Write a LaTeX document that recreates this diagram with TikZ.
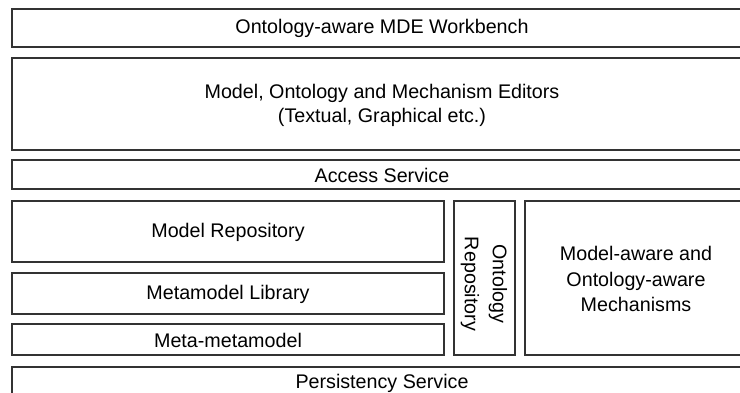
\documentclass[tikz,border=0pt]{standalone}
\usepackage{fontspec}
\setmainfont{Liberation Sans}
\definecolor{mdeLine}{HTML}{333333}
\tikzset{
  mde layer/.style={draw=mdeLine, line width=1pt},
  mde label/.style={font=\fontsize{9.85}{12}\selectfont, text=black, align=center, inner sep=0pt},
}

\begin{document}
\begin{tikzpicture}[x=0.5pt, y=-0.5pt]
  \useasboundingbox (0,0) rectangle (740,392);
  \clip (0,0) rectangle (740,392);

  % top of the stack: workbench, editors, access
  \draw[mde layer] (12,9) rectangle (752,47);
  \node[mde label] (workbench) at (382,28) {Ontology-aware MDE Workbench};
  \draw[mde layer] (12,58) rectangle (752,150);
  \node[mde label] (editors) at (382,105) {Model, Ontology and Mechanism Editors\\(Textual, Graphical etc.)};
  \draw[mde layer] (12,160) rectangle (752,189);
  \node[mde label] (access) at (382,175) {Access Service};

  % repositories on the left
  \draw[mde layer] (12,201) rectangle (444,262);
  \node[mde label] (modelrepo) at (228,232) {Model Repository};
  \draw[mde layer] (12,273) rectangle (444,314);
  \node[mde label] (mmlib) at (228,294) {Metamodel Library};
  \draw[mde layer] (12,324) rectangle (444,355);
  \node[mde label] (mmm) at (228,340) {Meta-metamodel};

  % ontology repository and mechanisms
  \draw[mde layer] (454,201) rectangle (515,355);
  \node[mde label, rotate=-90, font=\fontsize{9.85}{14}\selectfont] (ontorepo) at (484,284) {Ontology\\Repository};
  \draw[mde layer] (525,201) rectangle (752,355);
  \node[mde label, font=\fontsize{9.85}{12.6}\selectfont] (mechanisms) at (636,279) {Model-aware and\\Ontology-aware\\Mechanisms};

  % bottom of the stack
  \draw[mde layer] (12,367) rectangle (752,400);
  \node[mde label] (persistency) at (382,383) {Persistency Service};
\end{tikzpicture}
\end{document}
